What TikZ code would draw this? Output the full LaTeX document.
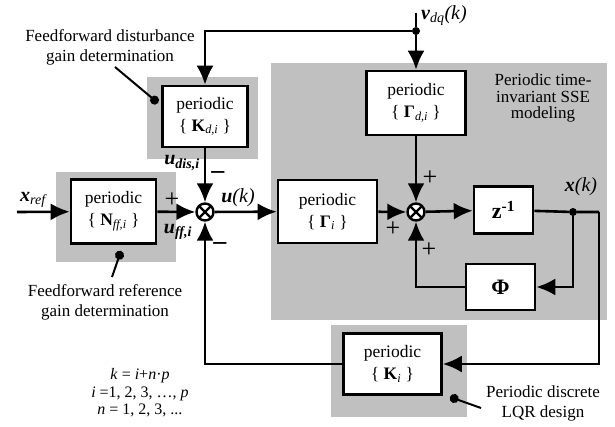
\documentclass[tikz,border=0pt]{standalone}
\usepackage{fontspec}
\setmainfont{Liberation Serif}
\usetikzlibrary{positioning, arrows.meta, calc}
\definecolor{ssShade}{HTML}{C0C0C0}
\definecolor{ssInk}{HTML}{000000}
\tikzset{
    ssBlock/.style={
        rectangle,
        draw=ssInk,
        fill=white,
        line width=2.6pt,
        align=center,
        inner sep=0pt,
        font=\fontsize{17.5}{22}\selectfont
    },
    ssShadeBox/.style={fill=ssShade, draw=none},
    ssSum/.style={
        circle,
        draw=ssInk,
        fill=white,
        line width=2.4pt,
        minimum size=17pt,
        inner sep=0pt,
        path picture={
            \draw[line width=2.4pt]
                (path picture bounding box.north west) -- (path picture bounding box.south east)
                (path picture bounding box.north east) -- (path picture bounding box.south west);
        }
    },
    % Connectors
    ssArrow/.style={-{Latex[length=19pt,width=17pt]}, line width=2.6pt, draw=ssInk},
    ssWire/.style={line width=2.6pt, draw=ssInk},
    ssLeader/.style={line width=2pt, draw=ssInk, -{Circle[length=9pt]}},
    ssDot/.style={circle, fill=ssInk, minimum size=8pt, inner sep=0pt},
    % Texts
    ssSignal/.style={font=\fontsize{20}{20}\selectfont\itshape, inner sep=1pt},
    ssSign/.style={font=\fontsize{26}{26}\selectfont, inner sep=0pt},
    ssNote/.style={font=\fontsize{17}{20}\selectfont, align=center, inner sep=0pt}
}

\begin{document}
\begin{tikzpicture}[x=1pt, y=-1pt]
    \useasboundingbox (0,0) rectangle (615,427);
    \fill[ssShadeBox] (271,63) rectangle (607,320);
    \fill[ssShadeBox] (147,77) rectangle (258,159);
    \fill[ssShadeBox] (56,172) rectangle (176,262);
    \fill[ssShadeBox] (331,325) rectangle (467,417);

    \node[ssBlock, minimum width=85pt, minimum height=61pt] (kd) at (205,116.5) {periodic\\\{ \textbf{K}\textsubscript{\textit{d,i}} \}};
    \node[ssBlock, minimum width=85pt, minimum height=64pt] (nff) at (113.5,211.5) {periodic\\\{ \textbf{N}\textsubscript{\textit{ff,i}} \}};
    \node[ssBlock, minimum width=99pt, minimum height=63pt] (gam) at (327.5,211.5) {periodic\\\{ \textbf{Γ}\textsubscript{\textit{i}} \}};
    \node[ssBlock, minimum width=99pt, minimum height=64pt] (gamd) at (416,103) {periodic\\\{ \textbf{Γ}\textsubscript{\textit{d,i}} \}};
    \node[ssBlock, minimum width=59pt, minimum height=47pt, font=\fontsize{22}{22}\selectfont] (zinv) at (503.5,210) {\textbf{z}\textsuperscript{\textbf{-1}}};
    \node[ssBlock, minimum width=69pt, minimum height=46pt, font=\fontsize{22}{22}\selectfont] (phi) at (500.5,287) {\textbf{Φ}};
    \node[ssBlock, minimum width=98pt, minimum height=61pt] (klqr) at (392.5,364) {periodic\\\{ \textbf{K}\textsubscript{\textit{i}} \}};

    \node[ssSum] (sumu) at (205,212) {};
    \node[ssSum] (sumx) at (416,212) {};

    \coordinate (xref) at (17,212);
    \coordinate (vdq) at (416,13);
    \node[ssDot] (vdqDot) at (416,31) {};
    \node[ssDot] (xkDot) at (573,212) {};
    \coordinate (xkRight) at (599,212);

    \draw[ssArrow] (xref) -- (nff);
    \draw[ssArrow] (nff) -- (sumu);
    \draw[ssArrow] (kd) -- (sumu);
    \draw[ssArrow] (sumu) -- (gam);
    \draw[ssArrow] (gam) -- (sumx);
    \draw[ssArrow] (gamd) -- (sumx);
    \draw[ssArrow] (sumx) -- (zinv);
    \draw[ssWire] (zinv) -- (xkDot) -- (xkRight);
    \draw[ssArrow] (xkRight) |- (klqr);
    \draw[ssArrow] (xkDot) |- (phi);
    \draw[ssArrow] (phi) -| (sumx);
    \draw[ssArrow] (klqr) -| (sumu);
    \draw[ssWire] (vdq) -- (vdqDot);
    \draw[ssArrow] (vdqDot) -- (gamd);
    \draw[ssArrow] (vdqDot) -| (kd);

    \node[ssSignal] (xrefLbl) at (33,200) {\textbf{x}\textsubscript{ref}};
    \node[ssSignal, anchor=west] (vdqLbl) at (420,16) {\textbf{v}\textsubscript{dq}(k)};
    \node[ssSignal] (udisLbl) at (182,163) {\textbf{u}\textsubscript{\textbf{dis,i}}};
    \node[ssSignal] (uffLbl) at (178,232) {\textbf{u}\textsubscript{\textbf{ff,i}}};
    \node[ssSignal] (ukLbl) at (238,198) {\textbf{u}(k)};
    \node[ssSignal] (xkLbl) at (581,187) {\textbf{x}(k)};

    \node[ssSign] (sgnA) at (172,200) {+};
    \node[ssSign] (sgnB) at (218,175) {\textbf{–}};
    \node[ssSign] (sgnC) at (220,246) {\textbf{–}};
    \node[ssSign] (sgnD) at (430,178) {+};
    \node[ssSign] (sgnE) at (393,229) {+};
    \node[ssSign] (sgnF) at (429,250) {+};

    \node[ssNote, font=\fontsize{17}{16.5}\selectfont] (sseNote) at (543,98) {Periodic time-\\invariant SSE\\modeling};
    \node[ssNote] (kdNote) at (110,47) {Feedforward disturbance\\gain determination};
    \node[ssNote] (nffNote) at (105,302) {Feedforward reference\\gain determination};
    \node[ssNote] (lqrNote) at (543,403) {Periodic discrete\\LQR design};
    \node[ssNote, font=\fontsize{16}{17.5}\selectfont] (idxNote) at (140,393) {\textit{k} = \textit{i}+\textit{n}·\textit{p}\\\textit{i} =1, 2, 3, …, \textit{p}\\\textit{n} = 1, 2, 3, ...};

    \coordinate (kdLead) at (115,67);
    \coordinate (nffLead) at (112,277);
    \coordinate (lqrLead) at (481,408);
    \draw[ssLeader] (kdLead) -- (158,103);
    \draw[ssLeader] (nffLead) -- (121,251);
    \draw[ssLeader] (lqrLead) -- (450,397);
\end{tikzpicture}
\end{document}
